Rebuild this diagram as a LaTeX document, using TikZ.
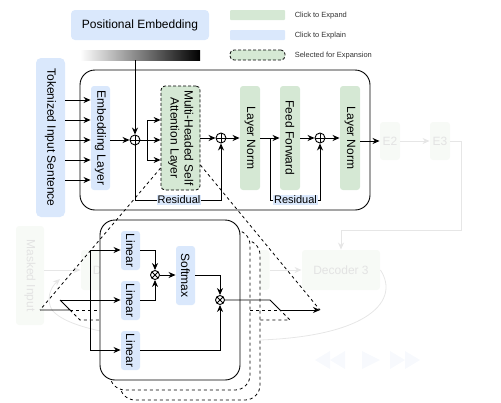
\documentclass[tikz,border=0pt]{standalone}
\usepackage{fontspec}
\setmainfont{Liberation Sans}
\usepackage{graphicx}
\usetikzlibrary{arrows.meta,calc}
\definecolor{gfill}{HTML}{D5E8D4}
\definecolor{bfill}{HTML}{DAE8FC}
\definecolor{fline}{HTML}{E6E6E6}
\definecolor{ffill}{HTML}{F7FAF6}
\definecolor{ftext}{HTML}{E3E3E3}
\definecolor{pfill}{HTML}{F7F9FD}
\newcommand\vtext[1]{\rotatebox{-90}{#1}}
\begin{document}
\begin{tikzpicture}[x=1pt,y=-1pt, line width=0.9pt,
 font=\fontsize{12}{14}\selectfont,
 box/.style={rectangle, inner sep=0pt, rounded corners=3pt},
 gbox/.style={box, fill=gfill},
 bbox/.style={box, fill=bfill},
 selbox/.style={box, fill=gfill, draw, line width=0.8pt, dash pattern=on 3pt off 2pt, rounded corners=4pt},
 fbox/.style={box, fill=ffill, text=ftext},
 arr/.style={-{Stealth[length=7pt,width=6pt]}},
 farr/.style={draw=fline, line width=0.8pt, -{Stealth[length=7pt,width=6pt]}},
 dsh/.style={dash pattern=on 3pt off 3pt, line width=0.8pt},
 opl/.style={circle, draw, minimum size=10pt, inner sep=0pt, path picture={\draw[line width=0.8pt] (path picture bounding box.north)--(path picture bounding box.south) (path picture bounding box.west)--(path picture bounding box.east);}},
 otm/.style={circle, draw, minimum size=9pt, inner sep=0pt, path picture={\draw[line width=0.8pt] (path picture bounding box.north west)--(path picture bounding box.south east) (path picture bounding box.south west)--(path picture bounding box.north east);}},
 reslabel/.style={fill=bfill, inner sep=1pt, font=\fontsize{11}{13}\selectfont},
 legtext/.style={anchor=west, text=black!80, font=\fontsize{7.5}{9}\selectfont},
 stack/.style={rectangle, fill=white, rounded corners=15pt, minimum width=140pt, minimum height=160pt, inner sep=0pt}
]
\useasboundingbox (0,0) rectangle (501,402);

% ---------- faint background elements ----------
\node[fbox, minimum width=28pt, minimum height=99pt] (mi) at (30,275.5) {\vtext{Masked Input}};
\node[fbox, minimum width=79pt, minimum height=40pt] (dec1) at (120.5,270) {Decoder 1};
\node[fbox, minimum width=79pt, minimum height=40pt] (dec2) at (230,270) {Decoder 2};
\node[fbox, minimum width=78pt, minimum height=40pt] (dec3) at (341,270) {Decoder 3};
\node[fbox, minimum width=20pt, minimum height=38pt] (e2) at (390,141) {E2};
\node[fbox, minimum width=20pt, minimum height=38pt] (e3) at (440,141) {E3};
\coordinate (loopend) at (60,279);
\coordinate (turn) at (461,230);
\draw[farr] (mi.east |- dec1) -- (dec1.west);
\draw[farr] (dec2.east) -- (dec3.west);
\draw[farr] (e2.east) -- (e3.west);
\draw[farr] (e3.east) -| (turn) -| (dec3.north);
\draw[farr] (dec3.east) .. controls (400,300) and (370,336) .. (260,340)
   .. controls (150,344) and (70,332) .. (52,310)
   .. controls (46,300) and (50,288) .. (loopend);
% player controls
\fill[pfill] (315,360) -- (330,351) -- (330,369) -- cycle;
\fill[pfill] (330,360) -- (345,351) -- (345,369) -- cycle;
\fill[pfill] (380,360) -- (362,351) -- (362,369) -- cycle;
\fill[pfill] (405,360) -- (390,351) -- (390,369) -- cycle;
\fill[pfill] (420,360) -- (405,351) -- (405,369) -- cycle;

% ---------- top ----------
\node[bbox, rounded corners=4pt, minimum width=138pt, minimum height=30pt] (pe) at (140,25) {Positional Embedding};
\node[rectangle, inner sep=0pt, minimum width=120pt, minimum height=10pt, left color=white, right color=black] (grad) at (140,55) {};

% legend
\node[gbox, rounded corners=1pt, minimum width=55pt, minimum height=10pt] (lg1) at (257.5,15) {};
\node[bbox, rounded corners=1pt, minimum width=55pt, minimum height=10pt] (lg2) at (257.5,35) {};
\node[selbox, minimum width=55pt, minimum height=10pt] (lg3) at (257.5,55) {};
\node[legtext] (lt1) at (291,16) {Click to Expand};
\node[legtext] (lt2) at (291,36) {Click to Explain};
\node[legtext] (lt3) at (291,56) {Selected for Expansion};

% ---------- encoder ----------
\node[bbox, rounded corners=5pt, minimum width=29pt, minimum height=159pt] (tok) at (50.5,137.5) {\vtext{Tokenized Input Sentence}};
\node[draw, rounded corners=15pt, minimum width=290pt, minimum height=140pt, inner sep=0pt] (enc) at (225,140) {};
\node[bbox, minimum width=19pt, minimum height=104pt] (emb) at (100.5,138) {\vtext{Embedding Layer}};
\node[opl] (c1) at (135,140) {};
\node[selbox, minimum width=39pt, minimum height=104pt] (mhsa) at (180.5,138) {\vtext{\begin{tabular}{@{}c@{}}Multi-Headed Self\\Attention Layer\end{tabular}}};
\node[opl] (c2) at (221,138) {};
\node[gbox, minimum width=20pt, minimum height=104pt] (ln1) at (250,138) {\vtext{Layer Norm}};
\node[gbox, minimum width=20pt, minimum height=104pt] (ff) at (290,138) {\vtext{Feed Forward}};
\node[opl] (c3) at (320,138) {};
\node[gbox, minimum width=20pt, minimum height=104pt] (ln2) at (350,138) {\vtext{Layer Norm}};

\foreach \yy in {100,120,140,160,180}
  \draw[arr] (tok.east |- 0,\yy) -- (emb.west |- 0,\yy);
\draw[arr] (c1 |- grad.south) -- (c1);
\draw[arr] (emb.east |- c1) -- (c1);
\coordinate (br1) at (147,140);
\draw[arr] (c1) -- (mhsa.west |- c1);
\draw (br1 |- 0,120) -- (br1 |- 0,160);
\draw[arr] (br1 |- 0,120) -- (mhsa.west |- 0,120);
\draw[arr] (br1 |- 0,160) -- (mhsa.west |- 0,160);
\draw[arr] (mhsa.east |- c2) -- (c2);
\draw[arr] (c1) -- (c1 |- 0,200) -| (c2);
\node[reslabel] (r1) at (179,200) {Residual};
\draw[arr] (c2) -- (ln1.west |- c2);
\coordinate (br2) at (270,138);
\draw[arr] (ln1.east |- c2) -- (ff.west |- c2);
\draw[arr] (br2) -- (br2 |- 0,200) -| (c3);
\node[reslabel] (r2) at (295.5,200) {Residual};
\draw[arr] (ff.east |- c3) -- (c3);
\draw[arr] (c3) -- (ln2.west |- c3);
\draw[arr] (ln2.east |- e2) -- (e2.west);

% ---------- expanded attention ----------
\coordinate (inp) at (40,310);
\coordinate (fanL) at (60,300);
\coordinate (fanLm) at (70,310);
\coordinate (fanLb) at (80,320);
\coordinate (fanR) at (270,300);
\coordinate (fanRm) at (280,310);
\coordinate (fanRb) at (290,320);
\coordinate (outp) at (320,310);
% hidden-head connectors (left ends are hidden under the front box)
\draw[dsh] (fanLm) -- (100,310);
\draw[dsh] (fanLm) -- (fanLb) -- (100,320);
\node[stack, draw, dsh] (mh3) at (190,320) {};
\node[stack, draw, dsh] (mh2) at (180,310) {};
\node[stack, draw] (mh1) at (170,300) {};
\draw[dsh] (mh2.east |- fanRm) -- (fanRm);
\draw[dsh] (mh3.east |- fanRb) -- (fanRb) -- (fanRm);

\node[bbox, minimum width=19pt, minimum height=39pt] (lin1) at (130.5,250.5) {\vtext{Linear}};
\node[bbox, minimum width=19pt, minimum height=39pt] (lin2) at (130.5,300.5) {\vtext{Linear}};
\node[bbox, minimum width=19pt, minimum height=39pt] (lin3) at (130.5,350.5) {\vtext{Linear}};
\node[bbox, minimum width=19pt, minimum height=59pt] (soft) at (185.5,275.5) {\vtext{Softmax}};
\node[otm] (x1) at (155,275) {};
\node[otm] (x2) at (220,300) {};

\draw (inp) -- (fanLm) -- (fanL);
\draw[arr] (fanL) -- (lin2.west |- fanL);
\draw (90,250) -- (90,350);
\draw[arr] (90,250) -- (lin1.west |- 0,250);
\draw[arr] (90,350) -- (lin3.west |- 0,350);
\draw[arr] (lin1.east |- 0,250) -| (x1);
\draw[arr] (lin2.east |- 0,300) -| (x1);
\draw[arr] (x1) -- (soft.west |- x1);
\draw[arr] (soft.east |- x1) -| (x2);
\draw[arr] (lin3.east |- 0,350) -| (x2);
\draw (x2) -- (fanR) -- (fanRm);
\draw[arr] (fanRm) -- (outp);

% zoom guide lines
\draw[dsh] (mhsa.west |- 0,168) -- (inp);
\draw[dsh] (mhsa.east |- 0,165) -- (outp);
\end{tikzpicture}
\end{document}
